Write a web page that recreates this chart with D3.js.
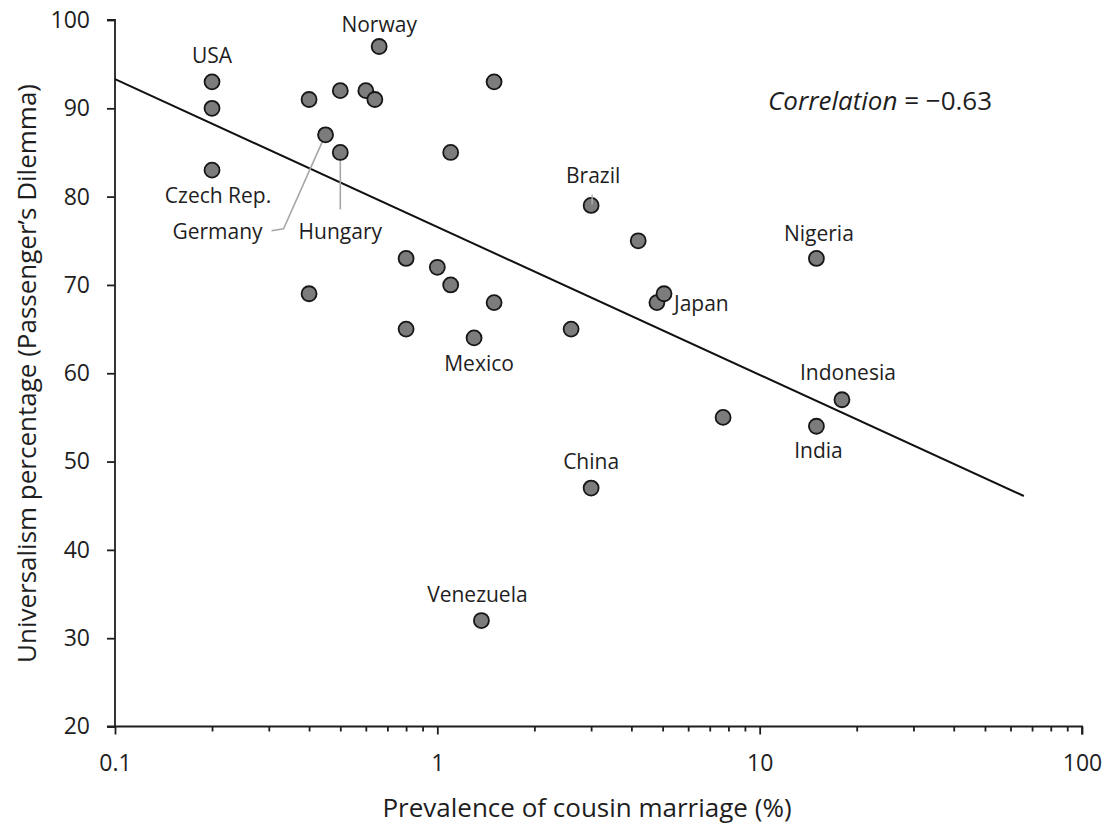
<!DOCTYPE html>
<html>
<head>
<meta charset="utf-8">
<script src="https://cdn.jsdelivr.net/npm/d3@7"></script>
<style>
  html, body { margin: 0; padding: 0; background: #ffffff; }
  svg { display: block; }
  text { font-family: "Open Sans", "Noto Sans", sans-serif; fill: #1e1e1e; }
</style>
</head>
<body>
<svg id="chart" width="1109" height="824"></svg>
<script>
// Prevalence of cousin marriage (%) per country
const cousinMarriage = [0.2, 0.2, 0.2, 0.4, 0.4, 0.45, 0.5, 0.5, 0.6, 0.64,
                        0.66, 0.8, 0.8, 1.0, 1.1, 1.1, 1.3, 1.37, 1.5, 1.5,
                        2.6, 3.0, 3.0, 4.2, 4.8, 5.05, 7.7, 15, 15, 18];
// Universalism percentage (Passenger's Dilemma) per country
const universalism = [93, 90, 83, 91, 69, 87, 92, 85, 92, 91,
                      97, 73, 65, 72, 85, 70, 64, 32, 93, 68,
                      65, 79, 47, 75, 68, 69, 55, 73, 54, 57];
// Country names ("" = unlabelled point)
const countryNames = ["USA", "", "Czech Rep.", "", "", "Germany", "", "Hungary", "", "",
                      "Norway", "", "", "", "", "", "Mexico", "Venezuela", "", "",
                      "", "Brazil", "China", "", "", "Japan", "", "Nigeria", "India", "Indonesia"];

// Fitted regression line (end points)
const trendX = [0.1, 66];
const trendY = [93.3, 46.1];

// Axis ticks
const xMajorTicks = [0.1, 1, 10, 100];
const xTickLabels = ["0.1", "1", "10", "100"];
const yTicks = [20, 30, 40, 50, 60, 70, 80, 90, 100];
const correlationValue = "\u22120.63";

const svg = d3.select("#chart");

const x = d3.scaleLog().domain([0.1, 100]).range([115, 1082]);
const y = d3.scaleLinear().domain([20, 100]).range([726.5, 20]);

// minor ticks: 2..9 in every decade
const xMinorTicks = [];
[0.1, 1, 10].forEach(d => { for (let k = 2; k <= 9; k++) xMinorTicks.push(+(d * k).toPrecision(3)); });

const axisColor = "#1e1e1e";
const tickFont = 23;

// x axis – minor ticks
svg.append("g")
  .attr("transform", `translate(0,${y(20)})`)
  .call(d3.axisBottom(x).tickValues(xMinorTicks).tickSize(5).tickFormat(""))
  .call(g => g.select(".domain").remove())
  .call(g => g.selectAll("line").attr("stroke", axisColor).attr("stroke-width", 1.8));

// x axis – major ticks and labels
svg.append("g")
  .attr("transform", `translate(0,${y(20)})`)
  .call(d3.axisBottom(x).tickValues(xMajorTicks).tickSize(8).tickPadding(20)
        .tickFormat((d, i) => xTickLabels[i]))
  .call(g => g.select(".domain").attr("d", `M${x(0.1) - 8},0H${x(100)}V8`)
              .attr("stroke", axisColor).attr("stroke-width", 1.8).attr("fill", "none"))
  .call(g => g.selectAll("line").attr("stroke", axisColor).attr("stroke-width", 1.8))
  .call(g => g.selectAll("text").attr("font-size", tickFont).attr("fill", "#1e1e1e")
              .attr("font-family", "'Open Sans', sans-serif"));

// y axis
svg.append("g")
  .attr("transform", `translate(${x(0.1)},0)`)
  .call(d3.axisLeft(y).tickValues(yTicks).tickSize(8).tickPadding(17).tickFormat(d3.format("d")))
  .call(g => g.select(".domain").attr("d", `M-8,${y(100)}H0V${y(20)}`)
              .attr("stroke", axisColor).attr("stroke-width", 1.8).attr("fill", "none"))
  .call(g => g.selectAll("line").attr("stroke", axisColor).attr("stroke-width", 1.8))
  .call(g => g.selectAll("text").attr("font-size", tickFont).attr("fill", "#1e1e1e")
              .attr("font-family", "'Open Sans', sans-serif"));

// axis titles
svg.append("text")
  .attr("x", 587).attr("y", 817)
  .attr("text-anchor", "middle")
  .attr("font-size", 26)
  .text("Prevalence of cousin marriage (%)");

svg.append("text")
  .attr("transform", "translate(36,373.5) rotate(-90)")
  .attr("text-anchor", "middle")
  .attr("font-size", 26)
  .text("Universalism percentage (Passenger\u2019s Dilemma)");

// regression line
svg.append("line")
  .attr("x1", x(trendX[0])).attr("y1", y(trendY[0]))
  .attr("x2", x(trendX[1])).attr("y2", y(trendY[1]))
  .attr("stroke", "#111").attr("stroke-width", 2);

const points = cousinMarriage.map((v, i) => ({ x: v, y: universalism[i], name: countryNames[i] }));

// label placement relative to each labelled point
const labelLayout = {
  "USA":        { dx: 0,   dy: -19,  anchor: "middle" },
  "Czech Rep.": { dx: 6,   dy: 33,   anchor: "middle" },
  "Germany":    { dx: -63, dy: 104,  anchor: "end", leader: [[-54, 96], [-42, 94], [-2, 4]] },
  "Hungary":    { dx: 0,   dy: 86.5, anchor: "middle", leader: [[0, 57], [0, 3]] },
  "Norway":     { dx: 0,   dy: -14.5, anchor: "middle" },
  "Mexico":     { dx: 5,   dy: 33,   anchor: "middle" },
  "Venezuela":  { dx: -4,  dy: -19,  anchor: "middle" },
  "Brazil":     { dx: 2,   dy: -22.5, anchor: "middle", leader: [[1, -11], [1, -1]] },
  "China":      { dx: 0,   dy: -19,  anchor: "middle" },
  "Japan":      { dx: 10,  dy: 17,   anchor: "start" },
  "Nigeria":    { dx: 2.5, dy: -17,  anchor: "middle" },
  "India":      { dx: 2,   dy: 32,   anchor: "middle" },
  "Indonesia":  { dx: 6,   dy: -20,  anchor: "middle" }
};

// leader lines
const leaderLine = d3.line();
points.filter(p => p.name && labelLayout[p.name].leader && p.name !== "Brazil").forEach(p => {
  const L = labelLayout[p.name];
  svg.append("path")
    .attr("d", leaderLine(L.leader.map(([dx, dy]) => [x(p.x) + dx, y(p.y) + dy])))
    .attr("fill", "none").attr("stroke", "#a6a6a6").attr("stroke-width", 1.6);
});

// points
svg.append("g").selectAll("circle")
  .data(points)
  .join("circle")
  .attr("cx", d => x(d.x))
  .attr("cy", d => y(d.y))
  .attr("r", 7.5)
  .attr("fill", "#7c7c7c")
  .attr("stroke", "#161616")
  .attr("stroke-width", 1.8);

// Brazil leader sits over its point
points.filter(p => p.name === "Brazil").forEach(p => {
  const L = labelLayout[p.name];
  svg.append("path")
    .attr("d", leaderLine(L.leader.map(([dx, dy]) => [x(p.x) + dx, y(p.y) + dy])))
    .attr("fill", "none").attr("stroke", "#b0b0b0").attr("stroke-width", 1.4);
});

// country labels
svg.append("g").selectAll("text")
  .data(points.filter(p => p.name))
  .join("text")
  .attr("x", d => x(d.x) + labelLayout[d.name].dx)
  .attr("y", d => y(d.y) + labelLayout[d.name].dy)
  .attr("text-anchor", d => labelLayout[d.name].anchor)
  .attr("font-size", 21)
  .attr("fill", "#262626")
  .text(d => d.name);

// correlation annotation
const corr = svg.append("text")
  .attr("x", 768).attr("y", 110)
  .attr("font-size", 26);
corr.append("tspan").attr("font-style", "italic").text("Correlation");
corr.append("tspan").text(" = " + correlationValue);
</script>
</body>
</html>
